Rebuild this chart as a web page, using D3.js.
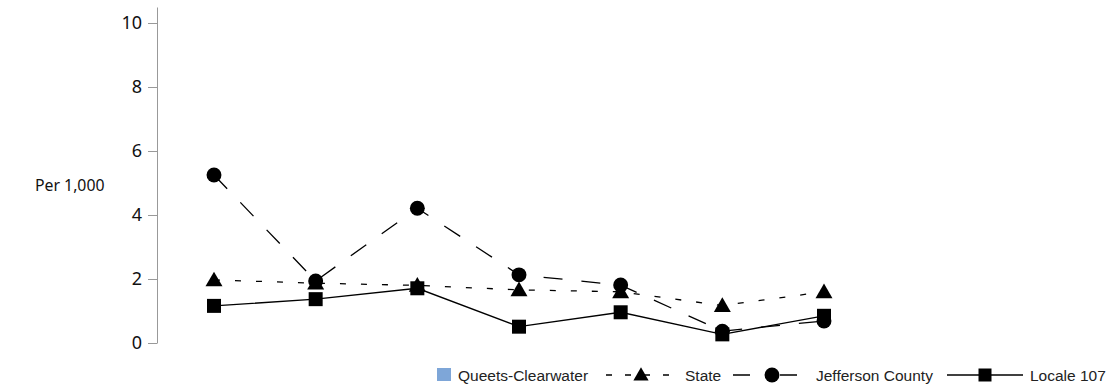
<!DOCTYPE html>
<html>
<head>
<meta charset="utf-8">
<script src="https://cdn.jsdelivr.net/npm/d3@7"></script>
<style>
  html, body { margin: 0; padding: 0; background: #fff; }
  svg { display: block; }
</style>
</head>
<body>
<svg id="chart" width="1107" height="386"></svg>
<script>
// ---- data ----
const categories = ["1", "2", "3", "4", "5", "6", "7"];
const stateValues = [1.97, 1.87, 1.80, 1.66, 1.60, 1.17, 1.60];
const jeffersonValues = [5.25, 1.94, 4.21, 2.13, 1.81, 0.37, 0.69];
const localeValues = [1.16, 1.37, 1.71, 0.51, 0.96, 0.27, 0.85];
const yTicks = [0, 2, 4, 6, 8, 10];
const seriesNames = ["Queets-Clearwater", "State", "Jefferson County", "Locale 107"];
const yLabel = "Per 1,000";

const svg = d3.select("#chart");

const x = d3.scalePoint().domain(categories).range([214, 824]);
const y = d3.scaleLinear().domain([0, 10.5]).range([343, 7]);

// y axis
const yAxis = d3.axisLeft(y).tickValues(yTicks).tickSize(9).tickPadding(6).tickSizeOuter(0);
const gy = svg.append("g").attr("transform", "translate(157,0)").call(yAxis);
gy.attr("font-size", null).attr("font-family", null);
gy.select(".domain").attr("stroke", "#999").attr("stroke-width", 1);
gy.selectAll(".tick line").attr("stroke", "#999");
gy.selectAll(".tick text")
  .attr("fill", "#111")
  .style("font-family", "'Noto Sans', 'Open Sans', sans-serif")
  .style("font-size", "18px");

svg.append("text")
  .attr("x", 35).attr("y", 191)
  .attr("fill", "#111")
  .style("font-family", "'Noto Sans', 'Open Sans', sans-serif")
  .style("font-size", "15.8px")
  .text(yLabel);

const line = d3.line().x((d, i) => x(categories[i])).y(d => y(d));

const series = [
  { name: "State", values: stateValues, dash: "6,15", symbol: d3.symbolTriangle, size: 125 },
  { name: "Jefferson County", values: jeffersonValues, dash: "19,19", symbol: d3.symbolCircle, size: 175 },
  { name: "Locale 107", values: localeValues, dash: null, symbol: d3.symbolSquare, size: 196 }
];

series.forEach(s => {
  svg.append("path")
    .datum(s.values)
    .attr("d", line)
    .attr("fill", "none")
    .attr("stroke", "#000")
    .attr("stroke-width", 1.3)
    .attr("stroke-dasharray", s.dash);
});
series.forEach(s => {
  svg.append("g").selectAll("path")
    .data(s.values)
    .join("path")
    .attr("transform", (d, i) => `translate(${x(categories[i])},${y(d) + (s.symbol === d3.symbolTriangle ? 1.5 : 0)})`)
    .attr("d", d3.symbol().type(s.symbol).size(s.size))
    .attr("fill", "#000");
});

// legend
const legend = svg.append("g").style("font-family", "'Liberation Sans', Arial, sans-serif").style("font-size", "15.5px");
const ly = 375;
const tb = 380.7;
legend.append("rect").attr("x", 437).attr("y", 368).attr("width", 14).attr("height", 13).attr("fill", "#7ea6d8");
legend.append("text").attr("x", 458).attr("y", tb).attr("fill", "#222").text(seriesNames[0]);

// State
legend.append("path").attr("d", `M606,${ly}H676`).attr("stroke", "#000").attr("stroke-width", 1.3).attr("stroke-dasharray", "6,13");
legend.append("path").attr("transform", `translate(641,${ly + 1})`).attr("d", d3.symbol().type(d3.symbolTriangle).size(100)).attr("fill", "#000");
legend.append("text").attr("x", 685).attr("y", tb).attr("fill", "#222").text(seriesNames[1]);

// Jefferson
legend.append("path").attr("d", `M733,${ly}H750M780,${ly}H797`).attr("stroke", "#000").attr("stroke-width", 1.3);
legend.append("path").attr("transform", `translate(772,${ly})`).attr("d", d3.symbol().type(d3.symbolCircle).size(175)).attr("fill", "#000");
legend.append("text").attr("x", 816).attr("y", tb).attr("fill", "#222").text(seriesNames[2]);

// Locale
legend.append("path").attr("d", `M947,${ly}H1023`).attr("stroke", "#000").attr("stroke-width", 1.3);
legend.append("path").attr("transform", `translate(985,${ly})`).attr("d", d3.symbol().type(d3.symbolSquare).size(169)).attr("fill", "#000");
legend.append("text").attr("x", 1030).attr("y", tb).attr("fill", "#222").text(seriesNames[3]);
</script>
</body>
</html>
